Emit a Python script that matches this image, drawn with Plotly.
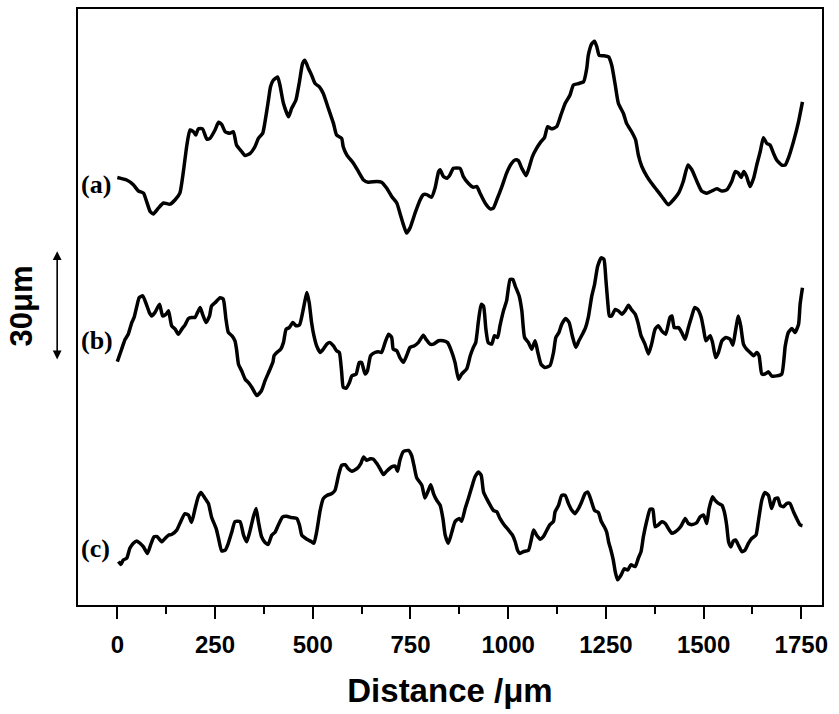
import plotly.graph_objects as go

# ---------------- data (distance in µm, surface height in µm) ----------------
dist_a = [0, 24, 41, 54, 67, 75, 84, 92, 105, 118,
          135, 148, 160, 169, 178, 186, 195, 201, 207, 218,
          229, 237, 250, 259, 267, 276, 288, 297, 305, 318,
          327, 340, 352, 361, 372, 378, 386, 392, 399, 410,
          416, 425, 438, 446, 457, 466, 474, 480, 489, 497,
          506, 517, 527, 540, 553, 561, 574, 578, 587, 604,
          617, 630, 642, 664, 676, 689, 702, 715, 723, 732,
          740, 749, 762, 775, 783, 792, 804, 813, 822, 826,
          834, 843, 851, 860, 877,
          885, 898, 911, 920, 928, 941, 954, 962, 971, 984,
          996, 1009, 1018, 1026, 1035, 1046, 1053, 1062, 1073, 1084,
          1093, 1101, 1111, 1124, 1135, 1146, 1158, 1167, 1180, 1193,
          1201, 1205, 1214, 1221, 1227, 1233, 1244, 1257, 1265, 1274,
          1282, 1295, 1303, 1316, 1326, 1333, 1342, 1355, 1367, 1380,
          1393, 1410, 1423, 1436, 1448, 1460, 1470, 1483, 1495, 1508,
          1521, 1534, 1547, 1559, 1572, 1581, 1589, 1596, 1603, 1610,
          1619, 1628, 1636, 1645, 1653, 1662, 1670, 1679, 1687, 1700,
          1709, 1717, 1730, 1743, 1753]
height_a = [17.0, 16.3, 15.0, 13.3, 12.7, 10.4, 7.7, 7.0, 8.6, 10.0,
            9.7, 10.9, 12.7, 18.6, 25.9, 30.0, 29.5, 28.6, 30.3, 30.3,
            27.5, 27.7, 30.0, 32.1, 31.5, 29.5, 29.1, 29.5, 25.9, 24.1,
            23.0, 23.6, 25.4, 27.7, 29.1, 32.3, 37.7, 41.8, 43.6, 44.5,
            42.3, 37.3, 33.6, 35.9, 38.2, 43.2, 48.2, 49.1, 46.8, 45.0,
            42.7, 41.8, 40.0, 35.9, 31.8, 28.6, 27.7, 25.4, 23.2, 20.9,
            18.6, 16.3, 15.7, 15.9, 15.7, 14.1, 11.8, 10.0, 7.3, 4.1,
            1.8, 3.2, 7.3, 10.9, 12.3, 12.3, 11.6, 14.1, 18.6, 19.1,
            17.3, 16.8, 17.7, 19.5, 19.5,
            17.3, 15.4, 14.3, 14.5, 12.7, 10.0, 8.4, 8.6, 10.9, 14.5,
            18.2, 20.9, 21.8, 21.6, 19.5, 17.5, 19.5, 22.7, 25.0, 26.8,
            27.9, 30.9, 30.3, 30.9, 34.1, 37.3, 39.5, 42.3, 42.7, 43.2,
            46.8, 50.4, 53.6, 54.3, 52.7, 50.4, 50.3, 50.0, 47.7, 42.3,
            37.3, 34.5, 31.8, 29.5, 27.3, 23.2, 20.0, 17.3, 15.4, 13.6,
            11.8, 9.5, 10.9, 12.7, 15.9, 20.4, 19.1, 15.9, 13.3, 12.7,
            13.3, 13.9, 13.3, 13.6, 15.9, 18.6, 18.2, 17.0, 18.6, 17.3,
            14.5, 16.8, 20.4, 24.1, 27.9, 26.3, 25.9, 23.6, 21.8, 20.4,
            20.4, 22.3, 26.8, 32.3, 37.7]

dist_b = [0, 11, 20, 28, 37, 43, 50, 56, 65, 73,
          82, 88, 96, 108, 116, 125, 131, 139, 148, 156,
          165, 173, 182, 190, 199, 205, 212, 218, 227, 236,
          241, 250, 263, 271, 278, 284, 293, 301, 305, 310,
          318, 327, 335, 344, 357, 369, 378, 389, 398, 401,
          408, 418, 425, 432, 440, 449, 457, 466, 474, 480,
          485, 491, 497, 503, 510, 519, 527, 536, 544, 553,
          561, 568, 574, 578, 585, 594, 600, 611, 619, 625,
          634, 640, 648, 659, 668, 676, 685, 694, 702, 706,
          715, 723, 732, 740, 749, 759, 770, 783, 790, 800,
          809, 822, 834, 845, 853, 864, 873,
          881, 894, 903, 911, 917, 924, 931, 937, 943, 949,
          958, 965, 973, 979, 988, 996, 1005, 1012, 1018, 1028,
          1035, 1042, 1052, 1060, 1069, 1076, 1084, 1094, 1107, 1116,
          1122, 1130, 1137, 1147, 1156, 1164, 1173, 1181, 1190, 1198,
          1205, 1214, 1221, 1229, 1238, 1245, 1250, 1255, 1259, 1265,
          1274, 1282, 1291, 1299, 1308, 1315, 1325, 1332, 1340, 1350,
          1359, 1367, 1376, 1384, 1393, 1403, 1414, 1419, 1425, 1436,
          1444, 1453, 1461, 1470, 1477, 1485, 1494, 1500, 1506, 1517,
          1523, 1531, 1538, 1547, 1557, 1568, 1575, 1581, 1589, 1595,
          1602, 1610, 1619, 1628, 1636, 1642, 1649, 1657, 1666, 1674,
          1687, 1700, 1709, 1717, 1726, 1734, 1743, 1747, 1753]
height_b = [16.6, 20.0, 22.7, 24.1, 27.3, 28.7, 31.8, 34.1, 34.6, 32.7,
            30.0, 29.1, 30.0, 32.3, 29.1, 29.6, 30.5, 26.4, 25.5, 24.1,
            25.5, 26.6, 28.4, 28.7, 28.7, 30.0, 31.4, 29.6, 27.3, 29.1,
            31.8, 32.7, 34.1, 33.7, 28.2, 24.6, 23.7, 22.3, 20.0, 15.9,
            14.1, 11.8, 10.9, 9.6, 7.3, 8.7, 11.4, 14.1, 16.4, 18.2,
            19.1, 20.0, 21.8, 25.5, 25.9, 27.3, 26.4, 26.6, 30.0, 33.2,
            35.5, 32.7, 27.3, 23.7, 20.9, 19.1, 20.0, 21.4, 21.8, 20.9,
            19.6, 19.1, 13.7, 9.6, 9.3, 10.9, 12.7, 13.2, 16.4, 16.4,
            13.2, 14.1, 18.2, 19.1, 19.3, 19.1, 21.8, 24.1, 23.2, 20.0,
            19.6, 17.7, 16.4, 18.2, 20.5, 20.9, 21.8, 23.8, 22.7, 21.4,
            21.4, 22.3, 22.3, 21.8, 20.0, 16.4, 11.8,
            13.2, 14.6, 18.2, 20.5, 21.8, 27.7, 32.3, 31.8, 25.5, 21.8,
            21.4, 23.7, 23.2, 26.4, 30.5, 33.2, 39.1, 39.1, 37.3, 34.6,
            30.5, 23.2, 21.8, 20.0, 22.3, 19.1, 15.9, 15.0, 15.5, 19.1,
            23.2, 24.6, 26.8, 28.4, 27.3, 23.7, 20.5, 22.3, 24.1, 25.9,
            28.7, 34.6, 37.7, 42.7, 45.0, 44.6, 39.1, 32.7, 29.1, 29.1,
            30.9, 30.5, 29.6, 30.5, 32.0, 30.9, 29.6, 27.3, 23.7, 21.4,
            18.7, 21.4, 25.5, 26.4, 25.0, 24.1, 28.7, 29.1, 25.9, 25.9,
            24.6, 22.7, 25.9, 29.1, 31.4, 30.9, 28.7, 25.5, 22.3, 23.7,
            21.8, 17.7, 19.1, 22.3, 23.2, 22.7, 21.1, 24.6, 29.1, 26.4,
            21.4, 20.0, 19.1, 18.2, 19.1, 18.2, 13.2, 13.2, 13.8, 12.7,
            12.7, 13.2, 20.9, 24.6, 25.7, 24.6, 26.8, 32.3, 36.8]

dist_c = [3, 9, 15, 24, 32, 41, 50, 58, 67, 77,
          85, 94, 102, 114, 122, 131, 139, 152, 160, 173,
          182, 190, 199, 207, 214, 222, 233, 241, 253, 259,
          267, 276, 284, 293, 301, 314, 323, 331, 340, 348,
          355, 361, 369, 378, 386, 395, 404, 412, 423, 433,
          446, 459, 466, 472, 485, 497, 503, 510, 519, 527,
          537, 549, 557, 566, 574, 583, 591, 600, 613, 623,
          630, 638, 647, 655, 664, 672, 681, 689, 702, 711,
          717, 723, 732, 745, 753, 759, 766, 779, 787, 796,
          802, 809, 817, 826, 833, 839, 847, 856, 864, 875,
          881, 890, 898, 907, 915, 924, 931, 937, 945, 954,
          962, 971, 979, 990, 1001, 1011, 1018, 1024, 1030, 1039,
          1052, 1059, 1065, 1073, 1082, 1090, 1099, 1107, 1116, 1120,
          1129, 1137, 1146, 1154, 1163, 1171, 1180, 1188, 1197, 1204,
          1212, 1221, 1231, 1238, 1246, 1252, 1257, 1263, 1269, 1274,
          1280, 1289, 1297, 1306, 1314, 1325, 1333, 1340, 1346, 1355,
          1363, 1370, 1376, 1384, 1393, 1402, 1410, 1419, 1427, 1437,
          1444, 1453, 1461, 1471, 1483, 1491, 1500, 1508, 1514, 1523,
          1529, 1538, 1547, 1553, 1559, 1564, 1570, 1576, 1582, 1589,
          1598, 1606, 1615, 1623, 1634, 1640, 1649, 1657, 1666, 1674,
          1683, 1690, 1696, 1704, 1713, 1721, 1730, 1738, 1747, 1753]
height_c = [11.9, 11.1, 12.3, 12.8, 15.5, 16.9, 17.5, 16.9, 15.9, 14.1,
            16.4, 18.7, 18.7, 17.3, 18.2, 19.1, 19.3, 20.5, 22.3, 25.0,
            24.6, 22.6, 26.4, 29.6, 30.8, 29.6, 27.8, 24.1, 20.9, 18.2,
            14.8, 15.0, 16.9, 20.0, 22.8, 22.8, 19.1, 17.3, 20.5, 24.1,
            26.4, 22.8, 18.7, 17.1, 16.6, 19.1, 20.0, 21.9, 24.1, 24.3,
            23.9, 23.7, 21.9, 19.1, 18.0, 17.3, 16.9, 20.0, 25.9, 29.1,
            30.0, 30.5, 31.4, 35.5, 38.2, 38.4, 37.3, 36.6, 37.3, 38.7,
            40.5, 39.6, 40.0, 39.9, 38.7, 37.3, 35.7, 36.6, 37.8, 38.0,
            36.6, 39.6, 42.0, 42.3, 40.9, 38.2, 34.8, 32.8, 29.3, 31.4,
            32.9, 30.5, 28.7, 27.3, 23.7, 19.1, 16.9, 20.0, 22.8, 23.7,
            22.9, 26.4, 29.1, 32.3, 35.0, 36.4, 35.5, 30.9, 29.1, 27.3,
            25.9, 25.5, 23.7, 21.9, 20.5, 19.1, 17.3, 15.0, 14.1, 14.6,
            15.0, 17.8, 20.5, 19.1, 18.0, 18.7, 20.5, 22.0, 22.9, 25.5,
            27.3, 30.0, 30.0, 27.8, 25.9, 25.0, 26.4, 28.2, 30.5, 30.9,
            28.7, 25.9, 25.3, 22.9, 21.4, 20.0, 17.3, 15.0, 12.3, 9.1,
            6.9, 8.2, 9.9, 9.6, 11.0, 10.5, 12.8, 14.6, 18.7, 23.2,
            26.2, 26.2, 21.4, 21.9, 22.8, 22.3, 20.9, 19.6, 20.0, 20.9,
            21.9, 23.7, 22.3, 22.0, 22.6, 24.1, 24.6, 22.3, 26.4, 29.6,
            28.7, 27.8, 27.3, 25.5, 21.9, 17.3, 15.9, 17.5, 17.8, 16.4,
            14.6, 15.0, 16.9, 18.2, 19.1, 22.8, 28.7, 30.8, 30.0, 26.4,
            29.1, 29.3, 27.3, 26.9, 27.8, 27.8, 25.5, 23.7, 21.9, 21.7]

profile_labels = ["(a)", "(b)", "(c)"]
profile_offsets = [100, 50, 0]          # vertical stacking of the profiles (µm)
label_heights = [115.1, 72.3, 15.5]    # where each (a)/(b)/(c) label sits (µm)
tick_values = [0, 250, 500, 750, 1000, 1250, 1500, 1750]
tick_text = ["0", "250", "500", "750", "1000", "1250", "1500", "1750"]
minor_tick_values = [125, 375, 625, 875, 1125, 1375, 1625]
scale_bar = [66.8, 96.8]                # 30 µm scale bar

profiles = [(dist_a, height_a), (dist_b, height_b), (dist_c, height_c)]

fig = go.Figure()
for (d, h), off in zip(profiles, profile_offsets):
    fig.add_trace(go.Scatter(
        x=d, y=[v + off for v in h], mode="lines",
        line=dict(color="black", width=3.5, shape="spline", smoothing=0.5),
        showlegend=False, hoverinfo="skip"))

annotations = []
for lab, yl in zip(profile_labels, label_heights):
    annotations.append(dict(
        text=lab, xref="paper", x=0.002, xanchor="left",
        yref="y", y=yl, yanchor="middle", showarrow=False,
        font=dict(family="Liberation Serif", size=26, color="black", weight="bold")))

# scale bar arrow
annotations.append(dict(
    xref="x domain", x=-0.028, yref="y", y=scale_bar[1],
    axref="x domain", ax=-0.028, ayref="y", ay=scale_bar[0],
    text="", showarrow=True, arrowhead=2, arrowside="end+start",
    arrowsize=1.1, arrowwidth=1.6, arrowcolor="black"))
annotations.append(dict(
    text="30μm", xref="paper", x=-0.076, xanchor="center",
    yref="y", y=(scale_bar[0] + scale_bar[1]) / 2, yanchor="middle",
    textangle=-90, showarrow=False,
    font=dict(family="Liberation Sans", size=31, color="black", weight="bold")))

fig.update_layout(
    width=839, height=714,
    margin=dict(l=78, r=17, t=7, b=109),
    paper_bgcolor="white", plot_bgcolor="white",
    annotations=annotations,
    xaxis=dict(
        range=[-100.6, 1803], showgrid=False, zeroline=False,
        showline=True, linecolor="black", linewidth=2, mirror=True,
        ticks="outside", ticklen=12, tickwidth=2, tickcolor="black",
        ticklabelstandoff=5,
        tickmode="array", tickvals=tick_values, ticktext=tick_text,
        minor=dict(tickmode="array", tickvals=minor_tick_values, ticks="outside",
                   ticklen=7, tickwidth=2, tickcolor="black"),
        tickfont=dict(family="Liberation Sans", size=24, color="black", weight="bold"),
        title=dict(text="Distance /μm", standoff=22,
                   font=dict(family="Liberation Sans", size=33, color="black", weight="bold")),
    ),
    yaxis=dict(
        range=[0, 163.1], showgrid=False, zeroline=False,
        showline=True, linecolor="black", linewidth=2, mirror=True,
        showticklabels=False, ticks="",
    ),
)

fig.write_html("out.html")
